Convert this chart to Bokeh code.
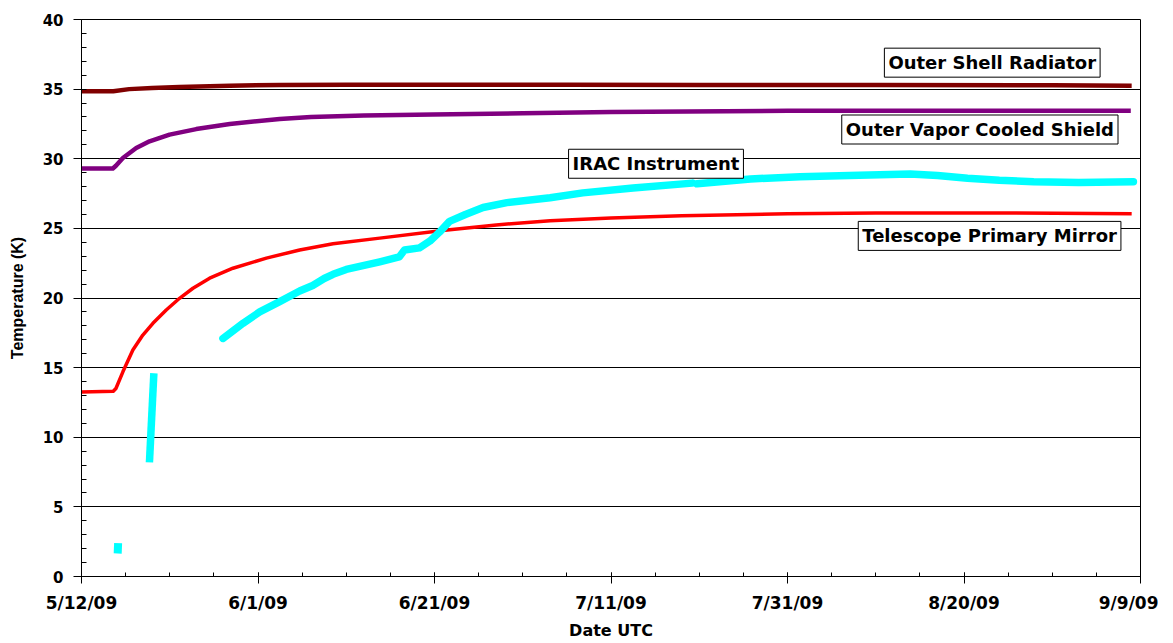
from bokeh.plotting import figure
from bokeh.models import FixedTicker, Label, Range1d
from bokeh.embed import file_html
from bokeh.resources import INLINE

# x values are days since 5/12/09 (UTC)
x_ticks = [0, 20, 40, 60, 80, 100, 120]
x_tick_labels = ["5/12/09", "6/1/09", "6/21/09", "7/11/09", "7/31/09", "8/20/09", "9/9/09"]
y_ticks = [0, 5, 10, 15, 20, 25, 30, 35, 40]

shell_day = [0, 3.6, 5.4, 8, 11.1, 16.8, 22.5, 30, 40, 55, 70, 90, 110, 119]
shell_temp = [34.84, 34.84, 35.0, 35.08, 35.15, 35.25, 35.3, 35.32, 35.32, 35.32, 35.3, 35.3, 35.27, 35.25]

vcs_day = [0, 3.55, 3.9, 4.69, 6.2, 7.71, 9.98, 13.0, 16.8, 22.46, 26, 32, 39.8, 50, 60, 80, 100, 118.9]
vcs_temp = [29.3, 29.3, 29.5, 30.05, 30.77, 31.25, 31.73, 32.13, 32.5, 32.86, 33.0, 33.1, 33.18, 33.27,
            33.35, 33.45, 33.45, 33.45]

mirror_day = [0, 3.6, 3.9, 4.69, 5.82, 6.95, 8.09, 9.6, 11.11, 12.63, 14.52, 17.16, 20.95, 24.72, 28.5,
              33.8, 40.9, 47, 53.1, 60, 68, 80, 90, 105, 119]
mirror_temp = [13.25, 13.3, 13.5, 14.7, 16.26, 17.34, 18.18, 19.14, 19.98, 20.7, 21.42, 22.14, 22.86, 23.45,
               23.9, 24.3, 24.85, 25.25, 25.55, 25.75, 25.9, 26.05, 26.1, 26.1, 26.05]

irac1_day = [4.1, 4.15]
irac1_temp = [1.65, 2.4]
irac2_day = [7.7, 8.2]
irac2_temp = [8.2, 14.6]
irac3_day = [16.03, 18.3, 20.19, 22.46, 24.72, 26.2, 27.5, 28.5, 30, 33.8, 36.0, 36.6, 38.3, 39.5, 40.6, 41.7,
             43.5, 45.5, 48.2, 53.1, 56.8, 62.5, 69.2]
irac3_temp = [17.1, 18.18, 19.0, 19.74, 20.5, 20.9, 21.4, 21.7, 22.05, 22.6, 22.95, 23.45, 23.6, 24.1, 24.75,
              25.5, 26.0, 26.5, 26.85, 27.2, 27.55, 27.9, 28.25]
irac4_day = [69.75, 75.8, 81.4, 87, 93.9, 97, 100.4, 104, 107.9, 113, 119.2]
irac4_temp = [28.2, 28.55, 28.7, 28.8, 28.9, 28.8, 28.6, 28.45, 28.35, 28.3, 28.35]

labels = ["Outer Shell Radiator", "Outer Vapor Cooled Shield", "Telescope Primary Mirror", "IRAC Instrument"]
label_x = [103.2, 101.8, 102.9, 65.1]
label_y = [36.9, 32.1, 24.46, 29.64]

p = figure(width=1158, height=643, output_backend="svg", toolbar_location=None,
           x_range=Range1d(0, 120), y_range=Range1d(0, 40),
           min_border_left=81, min_border_right=18, min_border_top=19, min_border_bottom=67)
p.background_fill_color = "white"
p.border_fill_color = "white"
p.outline_line_color = "black"
p.outline_line_width = 1

p.line(shell_day, shell_temp, line_color="#800000", line_width=4.5, line_join="round")
p.line(vcs_day, vcs_temp, line_color="#800080", line_width=4.5, line_join="round")
p.line(mirror_day, mirror_temp, line_color="#FF0000", line_width=3.5, line_join="round")
p.line(irac1_day, irac1_temp, line_color="#00FFFF", line_width=8)
p.line(irac2_day, irac2_temp, line_color="#00FFFF", line_width=7.5)
p.line(irac3_day, irac3_temp, line_color="#00FFFF", line_width=7.5, line_cap="round", line_join="round")
p.line(irac4_day, irac4_temp, line_color="#00FFFF", line_width=7.5, line_cap="round", line_join="round")

for t, lx, ly in zip(labels, label_x, label_y):
    p.add_layout(Label(x=lx, y=ly, text=t, text_align="center", text_baseline="middle",
                       text_font="DejaVu Sans", text_font_style="bold", text_font_size="18px",
                       text_color="black", background_fill_color="white",
                       border_line_color="black", border_line_width=1, padding=4))

p.xaxis.ticker = FixedTicker(ticks=x_ticks, minor_ticks=list(range(0, 121, 5)))
p.xaxis.major_label_overrides = {t: l for t, l in zip(x_ticks, x_tick_labels)}
p.yaxis.ticker = FixedTicker(ticks=y_ticks, minor_ticks=list(range(0, 41)))

p.xgrid.visible = False
p.ygrid.grid_line_color = "black"
p.ygrid.grid_line_width = 1

for ax in (p.xaxis[0], p.yaxis[0]):
    ax.axis_line_color = "black"
    ax.major_tick_line_color = "black"
    ax.minor_tick_line_color = "black"
    ax.major_label_text_font = "DejaVu Sans"
    ax.major_label_text_font_style = "bold"
    ax.major_label_text_color = "black"
    ax.axis_label_text_font_style = "bold"
    ax.axis_label_text_color = "black"

p.xaxis.major_tick_in = 4
p.xaxis.major_tick_out = 7
p.xaxis.minor_tick_in = 4
p.xaxis.minor_tick_out = 0
p.xaxis.major_label_text_font_size = "17px"
p.xaxis.major_label_standoff = 9
p.xaxis.axis_label = "Date UTC"
p.xaxis.axis_label_text_font = "DejaVu Sans"
p.xaxis.axis_label_text_font_size = "16px"
p.xaxis.axis_label_standoff = 5

p.yaxis.major_tick_in = 0
p.yaxis.major_tick_out = 8
p.yaxis.minor_tick_in = 5
p.yaxis.minor_tick_out = 0
p.yaxis.major_label_text_font_size = "15px"
p.yaxis.major_label_standoff = 10
p.yaxis.axis_label = "Temperature (K)"
p.yaxis.axis_label_text_font = "Liberation Sans"
p.yaxis.axis_label_text_font_size = "16px"
p.yaxis.axis_label_standoff = 14

open("out.html", "w").write(file_html(p, INLINE))
